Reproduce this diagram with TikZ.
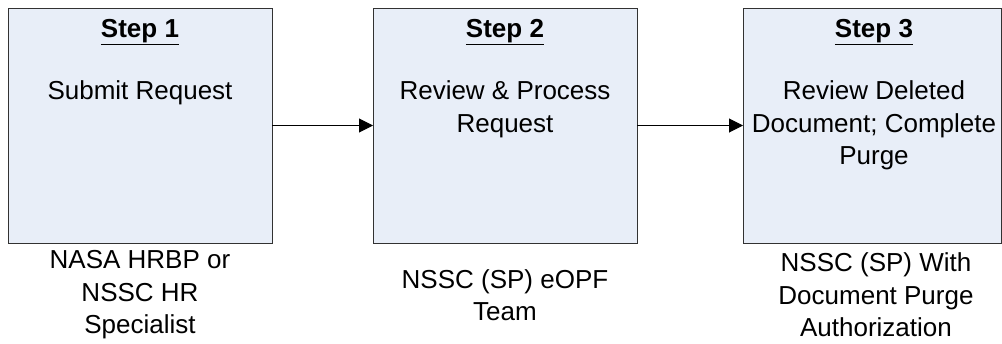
\documentclass[tikz,border=0pt]{standalone}
\usepackage{fontspec}
\setmainfont{Liberation Sans}
\usetikzlibrary{positioning,arrows.meta}
\definecolor{boxfill}{RGB}{232,238,248}
\definecolor{boxline}{RGB}{50,50,50}
\tikzset{
  stepbox/.style={draw=boxline,fill=boxfill,line width=1pt,minimum width=264pt,minimum height=235pt,inner sep=0pt,outer sep=0pt},
  steptext/.style={align=center,inner sep=0pt,font=\fontsize{26}{32.5}\selectfont},
  flow/.style={-{Triangle[length=14pt,width=14pt]},line width=1pt}
}
\begin{document}
                  \begin{tikzpicture}[x=1pt,y=1pt]
                      \useasboundingbox (0,0) rectangle (1002,-343);
                      \node[stepbox](box1)at(140,-125.5){};
                      \node[stepbox,right=101pt of box1](box2){};
                      \node[stepbox,minimum width=258pt,right=106pt of box2](box3){};
                      \node[steptext,anchor=north](task1)at([yshift=-11pt]box1.north){\underline{\textbf{Step 1}}\\[30pt]Submit Request};
                      \node[steptext,anchor=north](task2)at([yshift=-11pt]box2.north){\underline{\textbf{Step 2}}\\[30pt]Review \& Process\\Request};
                      \node[steptext,anchor=north](task3)at([xshift=2pt,yshift=-11pt]box3.north){\underline{\textbf{Step 3}}\\[30pt]Review Deleted\\Document; Complete\\Purge};
                      \node[steptext](who1)at([yshift=-52pt]box1.south){NASA HRBP or\\NSSC HR\\Specialist};
                      \node[steptext](who2)at([yshift=-52pt]box2.south){NSSC (SP) eOPF\\Team};
                      \node[steptext](who3)at([xshift=4pt,yshift=-52pt]box3.south){NSSC (SP) With\\Document Purge\\Authorization};
                      \draw[flow](box1)--(box2);
                      \draw[flow](box2)--(box3);
                  \end{tikzpicture}
\end{document}
